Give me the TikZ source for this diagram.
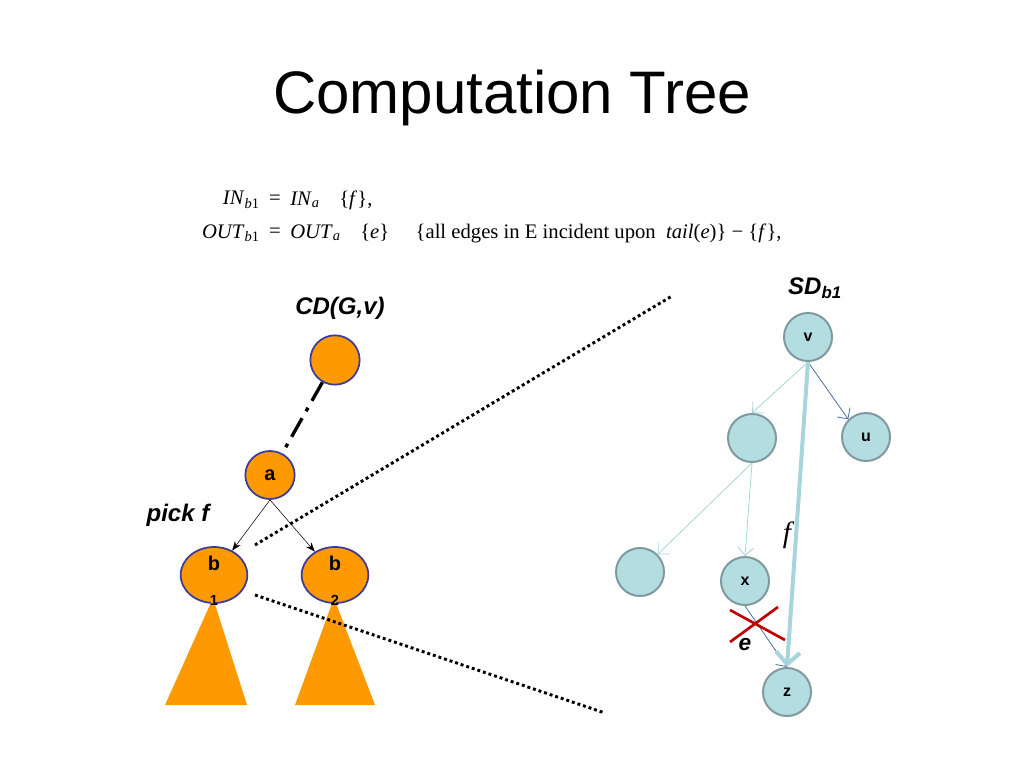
\documentclass[tikz,border=0pt]{standalone}
\usepackage{fontspec}
\setmainfont{Liberation Serif}
\setsansfont{Liberation Sans}
\usetikzlibrary{arrows.meta,shapes.geometric}
\definecolor{org}{HTML}{FF9900}
\definecolor{orgb}{HTML}{3B3B9A}
\definecolor{lb}{HTML}{B4DDE2}
\definecolor{lbb}{HTML}{7F9A9E}
\definecolor{lbl}{HTML}{A8D4DC}
\definecolor{dblue}{HTML}{4A6FA5}
\newcommand{\sbx}[1]{\textsubscript{#1}}
\begin{document}
\begin{tikzpicture}[x=0.75pt,y=-0.75pt,
  onode/.style={draw=orgb,line width=1.3pt,fill=org,ellipse,inner sep=0pt,font=\sffamily\bfseries\fontsize{15}{15}\selectfont},
  bnode/.style={circle,draw=lbb,line width=1.5pt,fill=lb,minimum size=36pt,inner sep=0pt,font=\sffamily\bfseries\fontsize{12}{12}\selectfont},
  lab/.style={font=\sffamily\bfseries\itshape\fontsize{18}{18}\selectfont},
  eq/.style={font=\fontsize{15.5}{17}\selectfont,inner sep=0pt},
  dots/.style={line width=2.2pt,dash pattern=on 2.2pt off 2.2pt}]
\useasboundingbox (0,0) rectangle (1024,768);
\node[font=\sffamily\fontsize{45}{45}\selectfont] (title) at (512,98) {Computation Tree};
% formula
\node[eq,anchor=east] (l1) at (260,200) {\textit{IN}\sbx{\textit{b}1}};
\node[eq] (e1) at (275,200) {=};
\node[eq,anchor=west] (r1) at (290,200) {\textit{IN}\sbx{\textit{a}}\,∪\{\textit{f}\},};
\node[eq,anchor=east] (l2) at (260,233) {\textit{OUT}\sbx{\textit{b}1}};
\node[eq] (e2) at (275,233) {=};
\node[eq,anchor=west] (r2) at (290,233) {\textit{OUT}\sbx{\textit{a}}\,∪\{\textit{e}\} ∪ \{all edges in E incident upon \ \textit{tail}(\textit{e})\} − \{\textit{f}\},};
% left tree
\node[onode,minimum width=37pt,minimum height=37pt] (top) at (335,360) {};
\node[onode,minimum width=37pt,minimum height=36pt] (a) at (270,475) {a};
\node[onode,minimum width=50pt,minimum height=42pt] (b1) at (214,575) {};
\node[onode,minimum width=50pt,minimum height=42pt] (b2) at (335,575) {};
\node[font=\sffamily\bfseries\fontsize{15}{15}\selectfont] (b1t) at (214,563) {b};
\node[font=\sffamily\bfseries\fontsize{15}{15}\selectfont] (b2t) at (335,563) {b};
\fill[org] (213,598) -- (165,705) -- (247,705) -- cycle;
\fill[org] (334,598) -- (295,705) -- (375,705) -- cycle;
\node[font=\sffamily\bfseries\fontsize{11}{11}\selectfont] (n1) at (214,600) {1};
\node[font=\sffamily\bfseries\fontsize{11}{11}\selectfont] (n2) at (335,600) {2};
\draw[line width=2.5pt,dash pattern=on 16pt off 6pt on 3pt off 6pt] (top) -- (a);
\draw[-{Stealth[length=7pt]},thin] (a.south) -- (b1);
\draw[-{Stealth[length=7pt]},thin] (a.south) -- (b2);
\node[lab] (cd) at (340,308) {CD(G,v)};
\node[lab] (pick) at (178,515) {pick f};
\coordinate (d1s) at (255,545); \coordinate (d1e) at (672,296);
\coordinate (d2s) at (255,595); \coordinate (d2e) at (605,713);
\draw[dots] (d1s) -- (d1e);
\draw[dots] (d2s) -- (d2e);
% right tree
\node[bnode] (v) at (808,337) {v};
\node[bnode] (u) at (866,437) {u};
\node[bnode] (m) at (752,438) {};
\node[bnode] (l) at (640,572) {};
\node[bnode] (x) at (745,581) {x};
\node[bnode] (z) at (787,692) {z};
\node[lab] (sd) at (815,288) {SD\sbx{b1}};
\draw[lbl,semithick,-{Straight Barb[length=6pt]}] (v.south) -- (m.north);
\draw[dblue,semithick,-{Straight Barb[length=6pt]}] (v.south) -- (u.north west);
\draw[lbl,semithick,-{Straight Barb[length=6pt]}] (m.south) -- (l.north east);
\draw[lbl,semithick,-{Straight Barb[length=6pt]}] (m.south) -- (x.north);
\draw[dblue,semithick,-{Straight Barb[length=6pt]}] (x.south) -- (z.north);
\draw[lbl,line width=3pt,-{Straight Barb[length=9pt]}] (v.south) -- (z.north);
\draw[red!75!black,line width=2pt] (730,610) -- (785,640) (730,642) -- (778,607);
\node[font=\itshape\fontsize{22}{22}\selectfont] (f) at (787,535) {\textit{f}};
\node[font=\sffamily\bfseries\itshape\fontsize{17}{17}\selectfont] (e) at (745,645) {e};
\end{tikzpicture}
\end{document}
